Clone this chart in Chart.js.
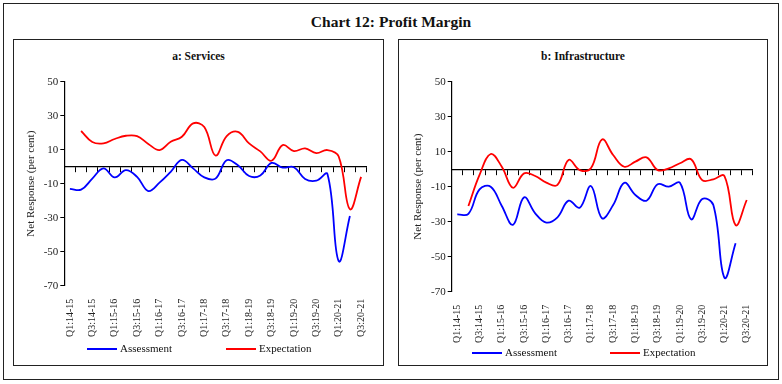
<!DOCTYPE html>
<html>
<head>
<meta charset="utf-8">
<script src="https://cdn.jsdelivr.net/npm/chart.js@4"></script>
<style>
  body { margin: 0; width: 782px; height: 384px; background: #fff; position: relative; overflow: hidden;
         font-family: "Liberation Serif", "DejaVu Serif", serif; color: #111; }
  .box { position: absolute; border: 1.5px solid #222; box-sizing: border-box; }
  .title { position: absolute; left: 0; width: 782px; top: 13px; text-align: center; font-size: 15.5px; font-weight: bold; }
  .sub { position: absolute; text-align: center; font-size: 11.5px; font-weight: bold; }
  canvas { position: absolute; }
  .legend { position: absolute; font-size: 11px; white-space: nowrap; }
  .legend .sw { display: inline-block; width: 30px; height: 2px; vertical-align: middle; margin-right: 3px; }
  .legend .it { position: absolute; top: 0; }
</style>
</head>
<body>
<div class="box" style="left:3px; top:3px; width:776px; height:377px;"></div>
<div class="title">Chart 12: Profit Margin</div>

<div class="box" style="left:13px; top:39px; width:371px; height:327px;"></div>
<div class="box" style="left:398px; top:39px; width:370px; height:327px;"></div>

<div class="sub" style="left:14px; width:369px; top:50px;">a: Services</div>
<div class="sub" style="left:399px; width:368px; top:50px;">b: Infrastructure</div>

<canvas id="c1" width="367" height="315" style="left:15px; top:41px;"></canvas>
<canvas id="c2" width="366" height="315" style="left:400px; top:41px;"></canvas>

<div class="legend" style="left:0; top:342px;">
  <span class="it" style="left:87px;"><span class="sw" style="background:#0000ff"></span>Assessment</span>
  <span class="it" style="left:226px;"><span class="sw" style="background:#ff0000"></span>Expectation</span>
</div>
<div class="legend" style="left:0; top:346px;">
  <span class="it" style="left:472px;"><span class="sw" style="background:#0000ff"></span>Assessment</span>
  <span class="it" style="left:610px;"><span class="sw" style="background:#ff0000"></span>Expectation</span>
</div>

<script>
const quarters = [
  'Q1:14-15','Q2:14-15','Q3:14-15','Q4:14-15',
  'Q1:15-16','Q2:15-16','Q3:15-16','Q4:15-16',
  'Q1:16-17','Q2:16-17','Q3:16-17','Q4:16-17',
  'Q1:17-18','Q2:17-18','Q3:17-18','Q4:17-18',
  'Q1:18-19','Q2:18-19','Q3:18-19','Q4:18-19',
  'Q1:19-20','Q2:19-20','Q3:19-20','Q4:19-20',
  'Q1:20-21','Q2:20-21','Q3:20-21'
];

const servicesAssessment = [-13, -13.5, -7, -1, -6.3, -2, -6, -14.3, -9.4, -3, 4, -1, -6.3, -7,
  3.8, 0.8, -5.5, -5.2, 2.2, -0.5, -0.3, -7.2, -8.2, -4.4, -55.5, -29, null];
const servicesExpectation = [null, 21, 14.5, 13.7, 16.3, 18.2, 18, 13.4, 9.8, 14.7, 17.6, 25.5, 23.3, 6.6,
  18, 20.5, 13.7, 9, 3.5, 12.7, 9.2, 10.8, 8, 9.8, 6, -25, -6];

const infraAssessment = [-25.8, -25.5, -11.5, -10, -21, -31.8, -16.1, -25.2, -30.5, -27.5, -18, -22, -9.6, -28,
  -20.5, -7.8, -14.7, -18, -8.6, -10, -7.8, -28.6, -17, -20.5, -62, -42.3, null];
const infraExpectation = [null, -21, -3.3, 8.7, 1.4, -10.6, -2.4, -3.9, -7.7, -9, 5.3, -0.5, 0.5, 17,
  8.1, 1.4, 4.3, 6.8, -0.5, 0.5, 3.4, 5.7, -6.2, -5.8, -3.9, -31.9, -17.6];

const yTicks = { min: -70, max: 50, step: 20 };

const serif = '"Liberation Serif", "DejaVu Serif", serif';

function makeChart(id, assess, expect, pad, xHeight) {
  return new Chart(document.getElementById(id), {
    type: 'line',
    data: {
      labels: quarters,
      datasets: [
        { label: 'Assessment', data: assess, borderColor: '#0000ff', backgroundColor: '#0000ff',
          borderWidth: 1.8, pointRadius: 0, tension: 0.4 },
        { label: 'Expectation', data: expect, borderColor: '#ff0000', backgroundColor: '#ff0000',
          borderWidth: 1.8, pointRadius: 0, tension: 0.4 }
      ]
    },
    options: {
      responsive: false,
      animation: false,
      devicePixelRatio: 1,
      layout: { padding: pad },
      plugins: { legend: { display: false }, title: { display: false }, tooltip: { enabled: false } },
      scales: {
        x: {
          offset: true,
          grid: { display: false },
          border: { display: false },
          // labels get clipped to the scale box, so keep it tall enough
          afterFit: s => { s.height = xHeight; },
          ticks: {
            autoSkip: false, minRotation: 90, maxRotation: 90, padding: 5,
            color: '#222', font: { family: serif, size: 10 },
            callback: function (v, i) { return i % 2 === 0 ? this.getLabelForValue(v) : ''; }
          }
        },
        x2: {
          type: 'category',
          position: { y: 0 },
          offset: true,
          grid: { offset: true, drawOnChartArea: false, drawTicks: true, tickLength: 5, color: '#000', lineWidth: 1 },
          border: { display: true, color: '#000', width: 1.2 },
          ticks: { display: false }
        },
        y: {
          min: yTicks.min, max: yTicks.max,
          afterFit: s => { s.width = 40; },
          ticks: { stepSize: yTicks.step, padding: 2, color: '#222', font: { family: serif, size: 11 } },
          grid: { drawOnChartArea: false, drawTicks: true, tickLength: 4, color: '#000' },
          border: { display: true, color: '#000', width: 1.2 },
          title: { display: true, text: 'Net Response (per cent)', color: '#222',
                   font: { family: serif, size: 11 }, padding: { top: 0, bottom: 2 } }
        }
      }
    }
  });
}

document.fonts.load('11px "Liberation Serif"').then(() => {
  makeChart('c1', servicesAssessment, servicesExpectation, { left: 9.3, right: 15.3, top: 40.7, bottom: 5.3 }, 65);
  makeChart('c2', infraAssessment, infraExpectation, { left: 11.7, right: 13.7, top: 40.7, bottom: 4.3 }, 60);
});
</script>
</body>
</html>
